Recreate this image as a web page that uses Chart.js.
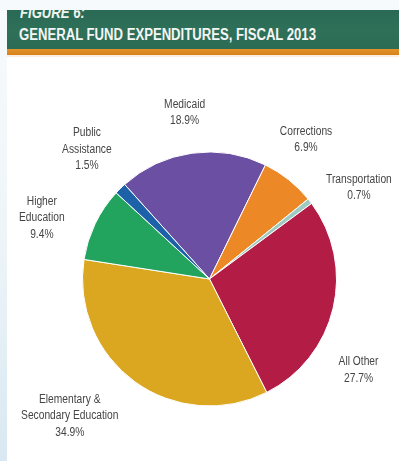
<!DOCTYPE html>
<html>
<head>
<meta charset="utf-8">
<script src="https://cdn.jsdelivr.net/npm/chart.js@4/dist/chart.umd.min.js"></script>
<style>
  html, body { margin: 0; padding: 0; }
  body {
    width: 399px; height: 461px; overflow: hidden; position: relative;
    background: linear-gradient(180deg, #f7fafc 0%, #eef5f9 50%, #d9e8f1 100%);
    font-family: "Liberation Sans", Arial, sans-serif;
  }
  #panel {
    position: absolute; left: 7px; top: 10px; width: 392px; height: 451px;
    background: #ffffff; overflow: hidden;
  }
  #banner {
    position: absolute; left: 0; top: 0; width: 392px; height: 39px;
    background: linear-gradient(180deg, #2a6a55 0%, #2f7059 55%, #2c6b55 100%);
    overflow: hidden;
  }
  /* condensed look: horizontally squeezed bold sans */
  #fig, #title {
    position: absolute; transform-origin: 0 0; transform: scaleX(0.82);
    font-weight: bold; font-size: 16px; line-height: 16px; white-space: nowrap;
  }
  #fig { left: 13px; top: -5px; color: #eef3f0; font-style: italic; }
  #title { left: 12px; top: 17px; color: #f3f6f4; }
  #stripe {
    position: absolute; left: 0; top: 39px; width: 392px; height: 6px;
    background: linear-gradient(180deg, #e3922a 0%, #d6821b 100%);
  }
  #under {
    position: absolute; left: 0; top: 45px; width: 392px; height: 2px;
    background: #fbeee0;
  }
  #wrap { position: absolute; left: 0; top: 45px; width: 392px; height: 406px; }
</style>
</head>
<body>
<div id="panel">
  <div id="banner">
    <div id="fig">FIGURE 6:</div>
    <div id="title">GENERAL FUND EXPENDITURES, FISCAL 2013</div>
  </div>
  <div id="stripe"></div>
  <div id="under"></div>
  <div id="wrap"><canvas id="pie" width="392" height="406"></canvas></div>
</div>
<script>
// Share of general fund expenditures, percent (clockwise from Medicaid)
const categories = [
  "Medicaid",
  "Corrections",
  "Transportation",
  "All Other",
  "Elementary & Secondary Education",
  "Higher Education",
  "Public Assistance"
];
const shares = [18.9, 6.9, 0.7, 27.7, 34.9, 9.4, 1.5];
// How each category name is broken across lines in its label
const labelLines = [
  ["Medicaid"],
  ["Corrections"],
  ["Transportation"],
  ["All Other"],
  ["Elementary &", "Secondary Education"],
  ["Higher", "Education"],
  ["Public", "Assistance"]
];
const sliceColors = ["#6a4fa2", "#ec8826", "#9fcac2", "#b31c44", "#dca720", "#22a45e", "#1d62a9"];

// Label placement: direction (deg clockwise from top) and distance in pie radii
const labelAngle = [-8.5, 34.7, 58.5, 121.4, 225.6, 290, 316.6];
const labelDist = [1.325, 1.335, 1.38, 1.375, 1.54, 1.405, 1.405];

const outsideLabels = {
  id: "outsideLabels",
  afterDraw(chart) {
    const ctx = chart.ctx;
    const arc = chart.getDatasetMeta(0).data[0];
    const cx = arc.x, cy = arc.y, r = arc.outerRadius;
    const lh = 16.6;
    const squeeze = 0.82;
    ctx.save();
    ctx.fillStyle = "#454545";
    ctx.font = '12.5px "Liberation Sans", Arial, sans-serif';
    ctx.textAlign = "center";
    ctx.textBaseline = "middle";
    shares.forEach((v, i) => {
      const lines = labelLines[i].concat([v.toFixed(1) + "%"]);
      const a = labelAngle[i] * Math.PI / 180;
      const x = cx + Math.sin(a) * r * labelDist[i];
      const y = cy - Math.cos(a) * r * labelDist[i];
      const top = y - (lines.length - 1) * lh / 2;
      lines.forEach((t, k) => {
        ctx.save();
        ctx.translate(x, top + k * lh);
        ctx.scale(squeeze, 1);
        ctx.fillText(t, 0, 0);
        ctx.restore();
      });
    });
    ctx.restore();
  }
};

new Chart(document.getElementById("pie"), {
  type: "pie",
  data: {
    labels: categories,
    datasets: [{
      data: shares,
      backgroundColor: sliceColors,
      borderColor: "#ffffff",
      borderWidth: 1,
      hoverOffset: 0
    }]
  },
  options: {
    responsive: false,
    animation: false,
    events: [],
    rotation: -41.9,
    layout: { padding: { left: 75, right: 62, top: 96, bottom: 54 } },
    plugins: {
      legend: { display: false },
      tooltip: { enabled: false },
      title: { display: false }
    }
  },
  plugins: [outsideLabels]
});
</script>
</body>
</html>
